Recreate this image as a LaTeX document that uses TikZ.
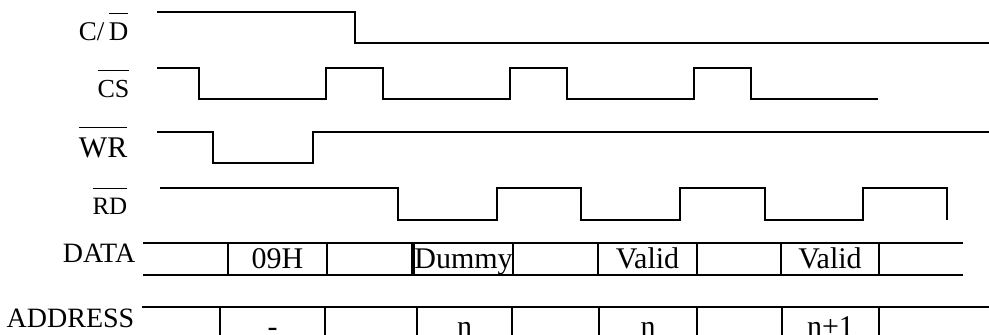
\documentclass[tikz,border=0pt]{standalone}
\usepackage{fontspec}
\setmainfont{Liberation Serif}
\newcommand{\negsig}[1]{$\overline{\mbox{\rule{0pt}{0.9em}#1}}$}

\begin{document}
\begin{tikzpicture}[x=0.5pt,y=-0.5pt,line width=0.7pt,
    siglabel/.style={anchor=base east,inner sep=0pt,
      font=\fontsize{14}{17}\selectfont},
    buslabel/.style={inner sep=0pt,text height=0.66em,text depth=0pt,
      yshift=-1.25pt,font=\fontsize{15}{18}\selectfont}]
    \clip (0,0) rectangle (989,334);

    % signal names
    \node[siglabel,font=\fontsize{13.5}{17}\selectfont] (cd) at (129,40) {C/\,\negsig{D}};
    \node[siglabel,font=\fontsize{13}{17}\selectfont] (cs) at (130,97) {\negsig{CS}};
    \node[siglabel,font=\fontsize{15}{17}\selectfont] (wr) at (128,157) {\negsig{WR}};
    \node[siglabel,font=\fontsize{12.5}{17}\selectfont] (rd) at (128,214) {\negsig{RD}};
    \node[siglabel] (data) at (136,262) {DATA};
    \node[siglabel] (address) at (135,327) {ADDRESS};

    % waveforms
    \draw (157,12) -- (355,12) -- (355,43) -- (989,43);
    \draw (157,68) -- (199,68) -- (199,99) -- (326,99) -- (326,68)
      -- (383,68) -- (383,99) -- (510,99) -- (510,68) -- (567,68)
      -- (567,99) -- (694,99) -- (694,68) -- (751,68) -- (751,99)
      -- (878,99);
    \draw (157,132) -- (213,132) -- (213,163) -- (313,163) -- (313,132)
      -- (989,132);
    \draw (160,188) -- (398,188) -- (398,220) -- (497,220) -- (497,188)
      -- (581,188) -- (581,220) -- (680,220) -- (680,188) -- (765,188)
      -- (765,220) -- (863,220) -- (863,188) -- (947,188) -- (947,220);

    % data bus
    \draw (143,243) -- (963,243);
    \draw (143,275) -- (963,275);
    \draw (228,243) rectangle (327,275) node[midway,buslabel] {09H};
    \draw (412,243) -- (412,275);
    \draw (414,243) rectangle (513,275) node[midway,buslabel] {Dummy};
    \draw (598,243) rectangle (697,275) node[midway,buslabel] {Valid};
    \draw (781,243) rectangle (879,275) node[midway,buslabel] {Valid};

    % address bus
    \draw (142,307) -- (989,307);
    \draw (220,307) rectangle (325,347) node[midway,buslabel] {-};
    \draw (417,307) rectangle (512,347) node[midway,buslabel] {n};
    \draw (599,307) rectangle (697,347) node[midway,buslabel] {n};
    \draw (782,307) rectangle (879,347) node[midway,buslabel] {n+1};
  \end{tikzpicture}
\end{document}
